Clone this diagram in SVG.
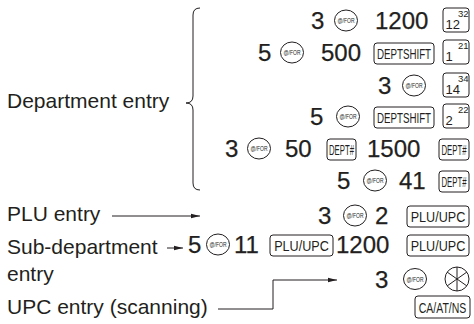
<svg xmlns="http://www.w3.org/2000/svg" width="474" height="324" viewBox="0 0 474 324">
<defs>
<style>
text{font-family:"Liberation Sans",Arial,sans-serif;fill:#231f20}
.lbl{font-size:21px}
.big{font-size:24px;stroke:#231f20;stroke-width:0.25}
.ell{fill:#fff;stroke:#231f20;stroke-width:1}
.kt{font-size:7.5px}
.key{fill:#fff;stroke:#231f20;stroke-width:1}
.kl{font-size:15px}
.sn{font-size:13px}
.ss{font-size:9.5px}
.ln{fill:none;stroke:#231f20;stroke-width:1}
</style>
<marker id="ah" markerWidth="9" markerHeight="6" refX="9" refY="3" orient="auto" markerUnits="userSpaceOnUse">
<path d="M0,0.8 L9,3 L0,5.2 z" fill="#231f20"/>
</marker>
</defs>
<rect width="474" height="324" fill="#fff"/>

<g id="label-department"><text class="lbl" x="7" y="108">Department entry</text></g>
<g id="label-plu"><text class="lbl" x="7" y="221">PLU entry</text></g>
<g id="label-subdept"><text class="lbl" x="7" y="254">Sub-department</text><text class="lbl" x="7" y="281">entry</text></g>
<g id="label-upc"><text class="lbl" x="7" y="314">UPC entry (scanning)</text></g>

<g id="row1">
<text class="big" x="311" y="29">3</text>
<ellipse class="ell" cx="346" cy="20.5" rx="11.5" ry="10.5"/><text class="kt" x="346" y="23" text-anchor="middle" textLength="17" lengthAdjust="spacingAndGlyphs">@/FOR</text>
<text class="big" x="375" y="29">1200</text>
<rect class="key" x="443" y="8" width="26" height="24" rx="3"/><text class="sn" x="445.5" y="29">12</text><text class="ss" x="458" y="16.5">32</text>
</g>
<g id="row2">
<text class="big" x="258" y="61">5</text>
<ellipse class="ell" cx="292" cy="52.5" rx="11.5" ry="10.5"/><text class="kt" x="292" y="55" text-anchor="middle" textLength="17" lengthAdjust="spacingAndGlyphs">@/FOR</text>
<text class="big" x="321" y="61">500</text>
<rect class="key" x="374" y="43" width="60" height="21" rx="3"/><text class="kl" transform="translate(404,59) scale(0.65,1)" text-anchor="middle">DEPTSHIFT</text>
<rect class="key" x="443" y="40" width="26" height="24" rx="3"/><text class="sn" x="445.5" y="61">1</text><text class="ss" x="458" y="48.5">21</text>
</g>
<g id="row3">
<text class="big" x="378" y="94">3</text>
<ellipse class="ell" cx="414" cy="85.5" rx="11.5" ry="10.5"/><text class="kt" x="414" y="88" text-anchor="middle" textLength="17" lengthAdjust="spacingAndGlyphs">@/FOR</text>
<rect class="key" x="443" y="73" width="26" height="24" rx="3"/><text class="sn" x="445.5" y="94">14</text><text class="ss" x="458" y="81.5">34</text>
</g>
<g id="row4">
<text class="big" x="310" y="125">5</text>
<ellipse class="ell" cx="348" cy="116.5" rx="11.5" ry="10.5"/><text class="kt" x="348" y="119" text-anchor="middle" textLength="17" lengthAdjust="spacingAndGlyphs">@/FOR</text>
<rect class="key" x="374" y="107" width="60" height="21" rx="3"/><text class="kl" transform="translate(404,123) scale(0.65,1)" text-anchor="middle">DEPTSHIFT</text>
<rect class="key" x="443" y="104" width="26" height="24" rx="3"/><text class="sn" x="445.5" y="125">2</text><text class="ss" x="458" y="112.5">22</text>
</g>
<g id="row5">
<text class="big" x="225" y="157">3</text>
<ellipse class="ell" cx="259" cy="148.5" rx="11.5" ry="10.5"/><text class="kt" x="259" y="151" text-anchor="middle" textLength="17" lengthAdjust="spacingAndGlyphs">@/FOR</text>
<text class="big" x="285" y="157">50</text>
<rect class="key" x="327" y="139" width="29" height="21" rx="3"/><text class="kl" transform="translate(341.5,155) scale(0.52,1)" text-anchor="middle">DEPT#</text>
<text class="big" x="367" y="157">1500</text>
<rect class="key" x="439" y="139" width="30" height="21" rx="3"/><text class="kl" transform="translate(454,155) scale(0.52,1)" text-anchor="middle">DEPT#</text>
</g>
<g id="row6">
<text class="big" x="337" y="189">5</text>
<ellipse class="ell" cx="375" cy="180.5" rx="11.5" ry="10.5"/><text class="kt" x="375" y="183" text-anchor="middle" textLength="17" lengthAdjust="spacingAndGlyphs">@/FOR</text>
<text class="big" x="399" y="189">41</text>
<rect class="key" x="439" y="171" width="30" height="21" rx="3"/><text class="kl" transform="translate(454,187) scale(0.52,1)" text-anchor="middle">DEPT#</text>
</g>
<g id="row-plu">
<text class="big" x="318" y="224">3</text>
<ellipse class="ell" cx="355" cy="215.5" rx="11.5" ry="10.5"/><text class="kt" x="355" y="218" text-anchor="middle" textLength="17" lengthAdjust="spacingAndGlyphs">@/FOR</text>
<text class="big" x="375" y="224">2</text>
<rect class="key" x="407" y="206" width="62" height="21" rx="3"/><text class="kl" transform="translate(438,222) scale(0.84,1)" text-anchor="middle">PLU/UPC</text>
</g>
<g id="row-subdept">
<text class="big" x="188" y="253">5</text>
<ellipse class="ell" cx="218" cy="244.5" rx="11.5" ry="10.5"/><text class="kt" x="218" y="247" text-anchor="middle" textLength="17" lengthAdjust="spacingAndGlyphs">@/FOR</text>
<text class="big" x="234" y="253">11</text>
<rect class="key" x="270" y="235" width="63" height="21" rx="3"/><text class="kl" transform="translate(301.5,251) scale(0.84,1)" text-anchor="middle">PLU/UPC</text>
<text class="big" x="336" y="253">1200</text>
<rect class="key" x="407" y="235" width="62" height="21" rx="3"/><text class="kl" transform="translate(438,251) scale(0.84,1)" text-anchor="middle">PLU/UPC</text>
</g>
<g id="row-upc">
<text class="big" x="375" y="288">3</text>
<ellipse class="ell" cx="415" cy="279" rx="11.5" ry="10.5"/><text class="kt" x="415" y="281.5" text-anchor="middle" textLength="17" lengthAdjust="spacingAndGlyphs">@/FOR</text>
<circle class="ln" cx="457" cy="279" r="12"/>
<path class="ln" d="M457,267 V291 M447.2,272.1 L466.8,285.9 M466.8,272.1 L447.2,285.9"/>
<rect class="key" x="415" y="296" width="55" height="22" rx="3"/><text class="kl" transform="translate(442.5,312.5) scale(0.7,1)" text-anchor="middle">CA/AT/NS</text>
</g>

<g id="connectors">
<path class="ln" d="M200,8 Q193,8 193,15 L193,96 Q193,103 186,103 Q193,103 193,110 L193,183 Q193,190 200,190"/>
<line class="ln" x1="112" y1="216" x2="200" y2="216" marker-end="url(#ah)"/>
<line class="ln" x1="167" y1="248" x2="183" y2="248" marker-end="url(#ah)"/>
<path class="ln" d="M218,309 H273 V280 H337" marker-end="url(#ah)"/>
</g>
</svg>
